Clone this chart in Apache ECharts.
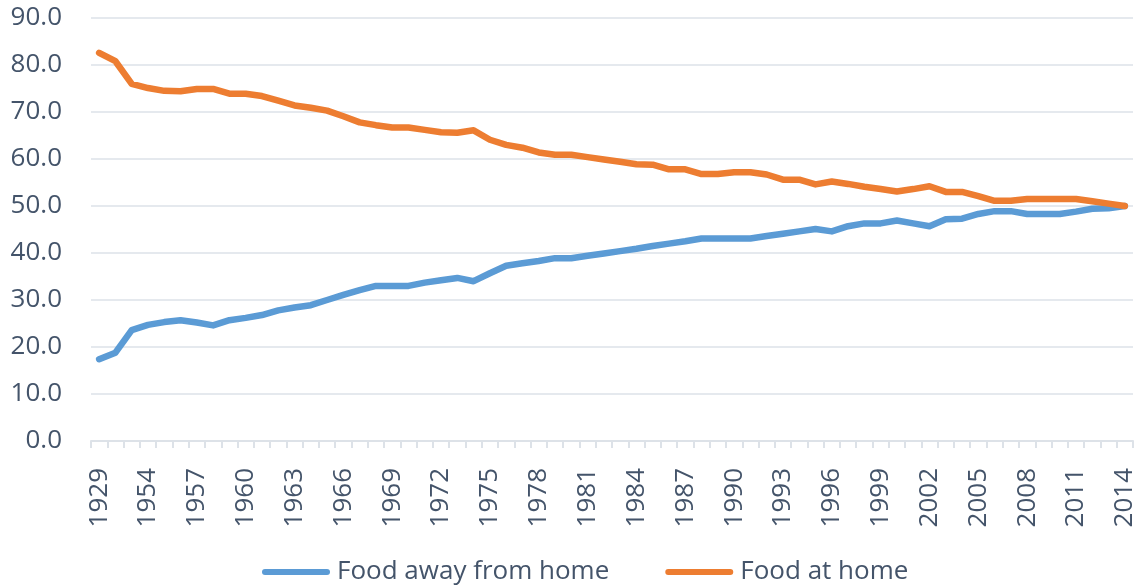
<!DOCTYPE html>
<html>
<head>
<meta charset="utf-8">
<script src="https://cdn.jsdelivr.net/npm/echarts@6/dist/echarts.min.js"></script>
<style>html,body{margin:0;padding:0;background:#fff}#c{width:1139px;height:585px}</style>
</head>
<body>
<div id="c"></div>
<script>
var categories = ['1929','1939','1949','1954','1955','1956','1957','1958','1959','1960','1961','1962','1963','1964','1965','1966','1967','1968','1969','1970','1971','1972','1973','1974','1975','1976','1977','1978','1979','1980','1981','1982','1983','1984','1985','1986','1987','1988','1989','1990','1991','1992','1993','1994','1995','1996','1997','1998','1999','2000','2001','2002','2003','2004','2005','2006','2007','2008','2009','2010','2011','2012','2013','2014'];
var foodAway = [17.4,18.8,23.6,24.7,25.3,25.7,25.2,24.6,25.7,26.2,26.8,27.8,28.4,28.9,30.0,31.1,32.1,33.0,33.0,33.0,33.7,34.2,34.7,34.0,35.7,37.3,37.8,38.3,38.9,38.9,39.4,39.9,40.4,40.9,41.5,42.0,42.5,43.1,43.1,43.1,43.1,43.6,44.1,44.6,45.1,44.6,45.7,46.3,46.3,46.9,46.3,45.7,47.2,47.3,48.3,48.9,48.9,48.3,48.3,48.3,48.8,49.4,49.5,50.0];
var foodHome = [82.6,80.8,76.0,75.1,74.5,74.4,74.9,74.9,73.9,73.9,73.4,72.4,71.4,70.9,70.3,69.1,67.8,67.2,66.7,66.7,66.2,65.7,65.6,66.1,64.1,63.0,62.4,61.4,60.9,60.9,60.4,59.9,59.4,58.9,58.8,57.8,57.8,56.8,56.8,57.2,57.2,56.7,55.6,55.6,54.6,55.2,54.7,54.1,53.6,53.1,53.6,54.2,53.0,53.0,52.1,51.1,51.1,51.5,51.5,51.5,51.5,51.0,50.5,50.0];
var seriesNames = ['Food away from home','Food at home'];

var textColor = '#44546A';
var gridColor = '#DDE2E8';
var font = 'Open Sans';
var chart = echarts.init(document.getElementById('c'), null, {renderer:'canvas'});
var legendIcon = 'path://M3,0 L65,0 A3,3 0 0 1 65,6 L3,6 A3,3 0 0 1 3,0 Z';
chart.setOption({
  animation: false,
  backgroundColor: '#fff',
  textStyle: {fontFamily: font},
  grid: {left: 91, right: 6, top: 18, bottom: 144, containLabel: false},
  legend: {
    top: 554, left: 257, itemGap: 56, itemWidth: 68, itemHeight: 6,
    textStyle: {fontSize: 26, color: textColor, fontFamily: font, padding: [0,0,0,2]},
    data: [{name: seriesNames[0], icon: legendIcon}, {name: seriesNames[1], icon: legendIcon}]
  },
  xAxis: {
    type: 'category', data: categories, boundaryGap: true,
    axisLine: {show: true, lineStyle: {color: gridColor, width: 2}},
    axisTick: {show: true, interval: 0, length: 7, lineStyle: {color: gridColor, width: 2}},
    axisLabel: {interval: 2, rotate: 90, margin: 27, fontSize: 26, color: textColor, fontFamily: font},
    splitLine: {show: false}
  },
  yAxis: {
    type: 'value', min: 0, max: 90, interval: 10,
    axisLine: {show: false}, axisTick: {show: false},
    axisLabel: {margin: 29, fontSize: 26, color: textColor, fontFamily: font,
      formatter: function(v){return v.toFixed(1);}},
    splitLine: {lineStyle: {color: gridColor, width: 1.5}}
  },
  series: [
    {name: seriesNames[0], type: 'line', data: foodAway, showSymbol: false, symbol: 'none',
     color: '#5B9BD5', lineStyle: {width: 6.5, color: '#5B9BD5', cap: 'round', join: 'round'}},
    {name: seriesNames[1], type: 'line', data: foodHome, showSymbol: false, symbol: 'none',
     color: '#ED7D31', lineStyle: {width: 6.5, color: '#ED7D31', cap: 'round', join: 'round'}}
  ]
});
</script>
</body>
</html>
